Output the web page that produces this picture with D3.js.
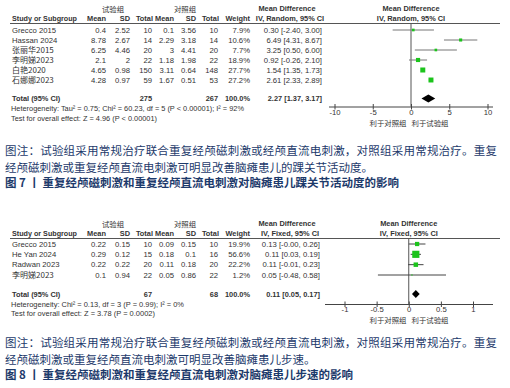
<!DOCTYPE html>
<html lang="zh">
<head>
<meta charset="UTF-8">
<title>Forest plots</title>
<script src="https://d3js.org/d3.v7.min.js"></script>
<style>
  body { margin: 0; background: #fff; }
  text { font-family: "Liberation Sans", Arial, "Noto Sans CJK SC", sans-serif; fill: #333; }
  .cjk { font-family: "Noto Sans CJK SC", sans-serif; }
  .cap { font-family: "Noto Sans CJK SC", sans-serif; fill: #1d3a6b; font-size: 11.5px; }
</style>
</head>
<body>
<div id="chart"></div>
<script>
// ---- Figure 7: ankle range of motion ----
const studies7 = ["Grecco 2015", "Hassan 2024", "张丽华2015", "李明娣2023", "白艳2020", "石娜娜2023"];
const expMean7 = [0.4, 8.78, 6.25, 2.1, 4.65, 4.28];
const expSD7 = [2.52, 2.67, 4.46, 2, 0.98, 0.97];
const expN7 = [10, 14, 20, 22, 150, 59];
const ctlMean7 = [0.1, 2.29, 3, 1.18, 3.11, 1.67];
const ctlSD7 = [3.56, 3.18, 4.41, 1.98, 0.64, 0.51];
const ctlN7 = [10, 14, 20, 22, 148, 53];
const weight7 = [7.9, 10.6, 7.7, 18.9, 27.7, 27.2];
const md7 = [0.30, 6.49, 3.25, 0.92, 1.54, 2.61];
const lo7 = [-2.40, 4.31, 0.50, -0.26, 1.35, 2.33];
const hi7 = [3.00, 8.67, 6.00, 2.10, 1.73, 2.89];
const total7 = { expN: 275, ctlN: 267, md: 2.27, lo: 1.37, hi: 3.17 };
const ticks7 = [-10, -5, 0, 5, 10];

// ---- Figure 8: walking speed ----
const studies8 = ["Grecco 2015", "He Yan 2024", "Radwan 2023", "李明娣2023"];
const expMean8 = [0.22, 0.29, 0.22, 0.1];
const expSD8 = [0.15, 0.12, 0.22, 0.94];
const expN8 = [10, 15, 20, 22];
const ctlMean8 = [0.09, 0.18, 0.11, 0.05];
const ctlSD8 = [0.15, 0.1, 0.18, 0.86];
const ctlN8 = [10, 16, 20, 22];
const weight8 = [19.9, 56.6, 22.2, 1.2];
const md8 = [0.13, 0.11, 0.11, 0.05];
const lo8 = [-0, 0.03, -0.01, -0.48];
const hi8 = [0.26, 0.19, 0.23, 0.58];
const total8 = { expN: 67, ctlN: 68, md: 0.11, lo: 0.05, hi: 0.17 };
const ticks8 = [-1, -0.5, 0, 0.5, 1];

const FS = 7.7;   // table body
const HS = 7.4;   // bold headers

const svg = d3.select("#chart").append("svg")
    .attr("width", 510).attr("height", 388);

const f2 = v => Object.is(v, -0) ? "-0.00" : v.toFixed(2);
const ciText = (m, l, h) => `${f2(m)} [${f2(l)}, ${f2(h)}]`;

function forest(cfg) {
    const g = svg.append("g").attr("transform", `translate(0,${cfg.top})`);
    const x = d3.scaleLinear().domain(cfg.domain).range(cfg.range);
    const y = d3.scalePoint().domain(cfg.studies).range([cfg.rowTop, cfg.rowBottom]);

    // group headers
    g.append("text").attr("class", "cjk").attr("x", 113).attr("y", 11.5).attr("text-anchor", "middle")
        .attr("font-size", 7.4).text("试验组");
    g.append("text").attr("class", "cjk").attr("x", 185).attr("y", 11.5).attr("text-anchor", "middle")
        .attr("font-size", 7.4).text("对照组");
    g.append("text").attr("x", 287).attr("y", 10.5).attr("text-anchor", "middle")
        .attr("font-size", HS).attr("font-weight", "bold").text("Mean Difference");
    g.append("text").attr("x", x(0)).attr("y", 10.5).attr("text-anchor", "middle")
        .attr("font-size", HS).attr("font-weight", "bold").text("Mean Difference");
    g.append("text").attr("x", 290).attr("y", 21).attr("text-anchor", "middle")
        .attr("font-size", HS).attr("font-weight", "bold").text(cfg.method);
    g.append("text").attr("x", x(0)).attr("y", 21).attr("text-anchor", "middle")
        .attr("font-size", HS).attr("font-weight", "bold").text(cfg.method);

    const heads = [["Mean", 106], ["SD", 130], ["Total", 153], ["Mean", 174], ["SD", 196], ["Total", 219], ["Weight", 250]];
    g.append("text").attr("x", 12).attr("y", 21).attr("font-size", HS).attr("font-weight", "bold")
        .attr("textLength", 65).attr("lengthAdjust", "spacingAndGlyphs").text("Study or Subgroup");
    g.selectAll(".hd").data(heads).join("text")
        .attr("x", d => d[1]).attr("y", 21).attr("text-anchor", "end")
        .attr("font-size", HS).attr("font-weight", "bold").text(d => d[0]);

    g.append("line").attr("x1", 10).attr("x2", 500).attr("y1", 23.5).attr("y2", 23.5)
        .attr("stroke", "#555").attr("stroke-width", 1);

    // table rows
    const cols = [
        [cfg.expMean, 106], [cfg.expSD, 130], [cfg.expN, 152],
        [cfg.ctlMean, 174], [cfg.ctlSD, 196], [cfg.ctlN, 218]
    ];
    cfg.studies.forEach((s, i) => {
        const yy = y(s) + 2.8;
        const cjk = /[\u4e00-\u9fff]/.test(s);
        g.append("text").attr("x", 12).attr("y", cjk ? yy + 0.3 : yy).attr("font-size", cjk ? 8 : FS)
            .attr("class", cjk ? "cjk" : null).text(s);
        cols.forEach(c => {
            g.append("text").attr("x", c[1]).attr("y", yy).attr("text-anchor", "end")
                .attr("font-size", FS).text(c[0][i]);
        });
        g.append("text").attr("x", 250).attr("y", yy).attr("text-anchor", "end")
            .attr("font-size", FS).text(cfg.weight[i].toFixed(1) + "%");
        g.append("text").attr("x", cfg.ciRight).attr("y", yy).attr("text-anchor", "end")
            .attr("font-size", FS).text(ciText(cfg.md[i], cfg.lo[i], cfg.hi[i]));
    });

    // total row
    const ty = cfg.totalY + 2.8;
    [["Total (95% CI)", 12, "start"], [cfg.total.expN, 152, "end"], [cfg.total.ctlN, 218, "end"],
     ["100.0%", 250, "end"], [ciText(cfg.total.md, cfg.total.lo, cfg.total.hi), cfg.ciRight, "end"]]
        .forEach(d => {
            g.append("text").attr("x", d[1]).attr("y", ty).attr("text-anchor", d[2])
                .attr("font-size", HS).attr("font-weight", "bold").text(d[0]);
        });
    g.append("text").attr("x", 11).attr("y", cfg.totalY + 12.8).attr("font-size", 7.8)
        .attr("textLength", cfg.hetW).attr("lengthAdjust", "spacingAndGlyphs").text(cfg.het);
    g.append("text").attr("x", 11).attr("y", cfg.totalY + 22).attr("font-size", 7.8)
        .attr("textLength", cfg.testW).attr("lengthAdjust", "spacingAndGlyphs").text(cfg.test);

    // reference line
    g.append("line").attr("x1", x(0)).attr("x2", x(0)).attr("y1", 23.5).attr("y2", cfg.axisY)
        .attr("stroke", "#555").attr("stroke-width", 1);

    // whiskers and squares
    cfg.studies.forEach((s, i) => {
        g.append("line").attr("x1", x(cfg.lo[i])).attr("x2", x(cfg.hi[i]))
            .attr("y1", y(s)).attr("y2", y(s)).attr("stroke", cfg.whisker).attr("stroke-width", 1);
        const side = Math.max(1.2, Math.sqrt(cfg.weight[i]) * 0.95);
        g.append("rect").attr("x", x(cfg.md[i]) - side / 2).attr("y", y(s) - side / 2)
            .attr("width", side).attr("height", side).attr("fill", "#1cc41c");
    });

    // diamond
    const cy = cfg.totalY;
    g.append("path")
        .attr("d", `M${x(cfg.total.lo)},${cy}L${x(cfg.total.md)},${cy - 4}L${x(cfg.total.hi)},${cy}L${x(cfg.total.md)},${cy + 4}Z`)
        .attr("fill", "#000");

    // axis
    const ax = g.append("g").attr("transform", `translate(0,${cfg.axisY})`)
        .call(d3.axisBottom(x).tickValues(cfg.ticks).tickSize(3).tickFormat(d => String(d)));
    ax.select(".domain").remove();
    ax.selectAll(".tick line").attr("y1", -2.5).attr("y2", 3).attr("stroke", "#444");
    ax.selectAll(".tick text").attr("y", 3).attr("font-size", FS).attr("fill", "#333")
        .attr("font-family", "Liberation Sans, Arial, sans-serif");
    ax.append("line").attr("x1", cfg.axisX[0]).attr("x2", cfg.axisX[1]).attr("y1", 0.5).attr("y2", 0.5)
        .attr("stroke", "#444").attr("stroke-width", 1);

    g.append("text").attr("class", "cjk").attr("x", 388).attr("y", cfg.axisY + 19).attr("text-anchor", "middle")
        .attr("font-size", 7.4).text("利于对照组");
    g.append("text").attr("class", "cjk").attr("x", 430).attr("y", cfg.axisY + 19).attr("text-anchor", "middle")
        .attr("font-size", 7.4).text("利于试验组");

    // caption
    const c = cfg.caption;
    g.append("text").attr("class", "cap").attr("x", 5).attr("y", c.y)
        .attr("textLength", 492).attr("lengthAdjust", "spacing").text(c.l1);
    g.append("text").attr("class", "cap").attr("x", 5).attr("y", c.y + 17).text(c.l2);
    g.append("text").attr("class", "cap").attr("x", 5).attr("y", c.y + 32)
        .attr("font-weight", "bold").text(c.title);
}

forest({
    top: 0, studies: studies7, expMean: expMean7, expSD: expSD7, expN: expN7,
    ctlMean: ctlMean7, ctlSD: ctlSD7, ctlN: ctlN7, weight: weight7,
    md: md7, lo: lo7, hi: hi7, total: total7, ticks: ticks7,
    domain: [-10, 10], range: [334.5, 487.5], axisX: [329, 493],
    rowTop: 30, rowBottom: 80, totalY: 98.5, axisY: 106.5, ciRight: 322,
    whisker: "#777", method: "IV, Random, 95% CI",
    het: "Heterogeneity: Tau² = 0.75; Chi² = 60.23, df = 5 (P < 0.00001); I² = 92%", hetW: 233,
    test: "Test for overall effect: Z = 4.96 (P < 0.00001)", testW: 146,
    caption: {
        y: 155,
        l1: "图注：试验组采用常规治疗联合重复经颅磁刺激或经颅直流电刺激，对照组采用常规治疗。重复",
        l2: "经颅磁刺激或重复经颅直流电刺激可明显改善脑瘫患儿的踝关节活动度。",
        title: "图 7 丨 重复经颅磁刺激和重复经颅直流电刺激对脑瘫患儿踝关节活动度的影响"
    }
});

forest({
    top: 215, studies: studies8, expMean: expMean8, expSD: expSD8, expN: expN8,
    ctlMean: ctlMean8, ctlSD: ctlSD8, ctlN: ctlN8, weight: weight8,
    md: md8, lo: lo8, hi: hi8, total: total8, ticks: ticks8,
    domain: [-1, 1], range: [344.5, 473], axisX: [325, 493],
    rowTop: 29, rowBottom: 60, totalY: 79, axisY: 89, ciRight: 320,
    whisker: "#444", method: "IV, Fixed, 95% CI",
    het: "Heterogeneity: Chi² = 0.13, df = 3 (P = 0.99); I² = 0%", hetW: 173,
    test: "Test for overall effect: Z = 3.78 (P = 0.0002)", testW: 144,
    caption: {
        y: 132,
        l1: "图注：试验组采用常规治疗联合重复经颅磁刺激或经颅直流电刺激，对照组采用常规治疗。重复",
        l2: "经颅磁刺激或重复经颅直流电刺激可明显改善脑瘫患儿步速。",
        title: "图 8 丨 重复经颅磁刺激和重复经颅直流电刺激对脑瘫患儿步速的影响"
    }
});
</script>
</body>
</html>
